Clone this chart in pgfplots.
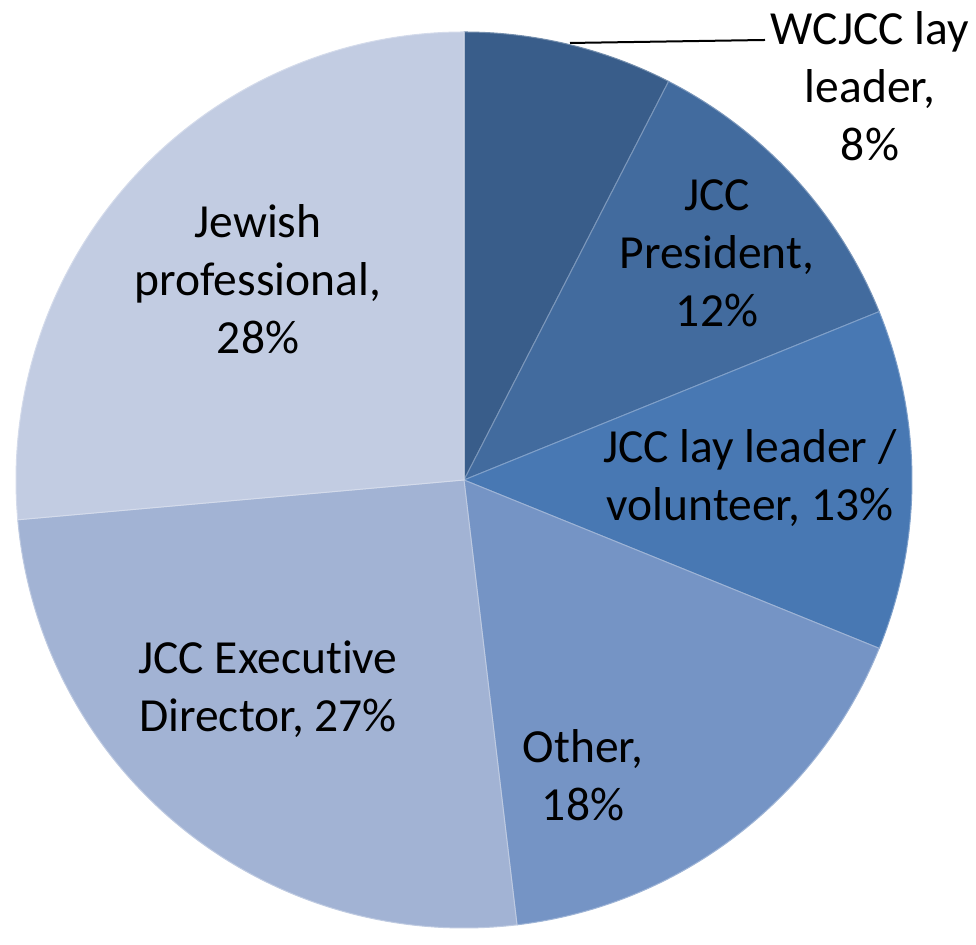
\documentclass[border=0pt]{standalone}
\usepackage{fontspec}
\setmainfont{Carlito}[Ligatures={NoCommon}]
\usepackage{pgfplots}
\usepackage{pgfplotstable}
\pgfplotsset{compat=1.18}

\definecolor{slice0}{HTML}{395D8A}
\definecolor{slice1}{HTML}{426B9E}
\definecolor{slice2}{HTML}{4878B3}
\definecolor{slice3}{HTML}{7594C5}
\definecolor{slice4}{HTML}{A2B3D4}
\definecolor{slice5}{HTML}{C2CCE2}

\tikzset{lbl/.style={font=\fontsize{23.75}{29}\selectfont, align=center, text=black, inner sep=0pt}}

% shares as printed on the chart (they add up to 106)
\pgfplotstableread{
label value
WCJCC 8
President 12
LayLeader 13
Other 18
ExecDir 27
JewishProf 28
}\piedata

\begin{document}
\begin{tikzpicture}
\begin{axis}[
    x=0.5pt, y=0.5pt,
    xmin=0, xmax=976, ymin=0, ymax=929,
    hide axis, clip=false,
]
\path (axis cs:0,0) rectangle (axis cs:976,929);
% total
\def\total{0}
\pgfplotsforeachungrouped \i in {0,...,5}{%
    \pgfplotstablegetelem{\i}{value}\of\piedata
    \pgfmathsetmacro\total{\total+\pgfplotsretval}%
}
% wedges, clockwise from 12 o'clock (radius 448 px = 224pt)
\def\cum{0}
\pgfplotsforeachungrouped \i in {0,...,5}{%
    \pgfplotstablegetelem{\i}{value}\of\piedata
    \pgfmathsetmacro\nextcum{\cum+\pgfplotsretval}%
    \pgfmathsetmacro\sa{90-360*(\cum/\total)}%
    \pgfmathsetmacro\ea{90-360*(\nextcum/\total)}%
    \pgfmathsetmacro\px{464+448*cos(\sa)}%
    \pgfmathsetmacro\py{449+448*sin(\sa)}%
    \edef\cmd{\noexpand\fill[slice\i, draw=white!30!slice\i, line width=0.5pt]
        (axis cs:464,449) -- (axis cs:\px,\py)
        arc[start angle=\sa, end angle=\ea, radius=224pt] -- cycle;}%
    \cmd
    \global\let\cum\nextcum
}
% labels
\draw[black, line width=1pt] (axis cs:570,886) -- (axis cs:765,889);
\node[lbl] at (axis cs:870,843) {WCJCC lay\\leader,\\8\%};
\node[lbl] at (axis cs:717,676) {JCC\\President,\\12\%};
\node[lbl] at (axis cs:750,451) {JCC lay leader /\\volunteer, 13\%};
\node[lbl] at (axis cs:583,154) {Other,\\18\%};
\node[lbl] at (axis cs:268,240) {JCC Executive\\Director, 27\%};
\node[lbl] at (axis cs:258,650) {Jewish\\professional,\\28\%};
\end{axis}
\end{tikzpicture}
\end{document}
